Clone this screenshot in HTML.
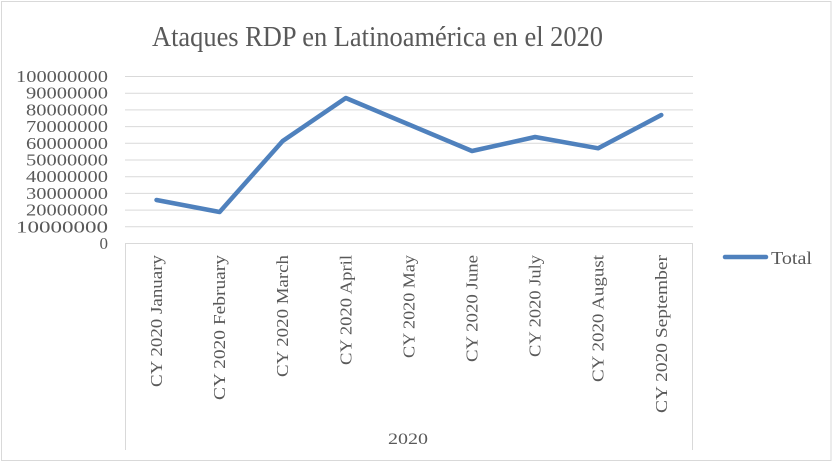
<!DOCTYPE html>
<html><head><meta charset="utf-8"><style>
html,body{margin:0;padding:0;background:#fff;}
svg{display:block;}
text{font-family:"Liberation Serif",serif;fill:#595959;}
</style></head><body>
<svg width="833" height="462" viewBox="0 0 833 462" xmlns="http://www.w3.org/2000/svg">
<rect x="0" y="0" width="833" height="462" fill="#fff"/>
<rect x="1.5" y="1.5" width="829.5" height="459" fill="none" stroke="#d9d9d9" stroke-width="1"/>
<text x="377.5" y="46" font-size="29" text-anchor="middle" textLength="451" lengthAdjust="spacingAndGlyphs">Ataques RDP en Latinoamérica en el 2020</text>
<g stroke="#d9d9d9" stroke-width="1">
<line x1="125" x2="693" y1="76.5" y2="76.5"/>
<line x1="125" x2="693" y1="93.2" y2="93.2"/>
<line x1="125" x2="693" y1="109.9" y2="109.9"/>
<line x1="125" x2="693" y1="126.6" y2="126.6"/>
<line x1="125" x2="693" y1="143.3" y2="143.3"/>
<line x1="125" x2="693" y1="160" y2="160"/>
<line x1="125" x2="693" y1="176.7" y2="176.7"/>
<line x1="125" x2="693" y1="193.4" y2="193.4"/>
<line x1="125" x2="693" y1="210.1" y2="210.1"/>
<line x1="125" x2="693" y1="226.8" y2="226.8"/>
<line x1="125" x2="693" y1="243.5" y2="243.5"/>
<line x1="125.5" x2="125.5" y1="243" y2="450"/>
<line x1="692.5" x2="692.5" y1="243" y2="450"/>
</g>
<g font-size="17" text-anchor="end">
<text x="108" y="82" textLength="92" lengthAdjust="spacingAndGlyphs">100000000</text>
<text x="108" y="98.7" textLength="82" lengthAdjust="spacingAndGlyphs">90000000</text>
<text x="108" y="115.4" textLength="82" lengthAdjust="spacingAndGlyphs">80000000</text>
<text x="108" y="132.1" textLength="82" lengthAdjust="spacingAndGlyphs">70000000</text>
<text x="108" y="148.8" textLength="82" lengthAdjust="spacingAndGlyphs">60000000</text>
<text x="108" y="165.5" textLength="82" lengthAdjust="spacingAndGlyphs">50000000</text>
<text x="108" y="182.2" textLength="82" lengthAdjust="spacingAndGlyphs">40000000</text>
<text x="108" y="198.9" textLength="82" lengthAdjust="spacingAndGlyphs">30000000</text>
<text x="108" y="215.6" textLength="82" lengthAdjust="spacingAndGlyphs">20000000</text>
<text x="108" y="232.3" textLength="92" lengthAdjust="spacingAndGlyphs">10000000</text>
<text x="108" y="249">0</text>
</g>
<polyline fill="none" stroke="#4f81bd" stroke-width="4.5" stroke-linejoin="round" stroke-linecap="round"
points="156.5,200 219.6,212 282.7,141 345.8,98 408.9,124.5 472,151 535.1,137 598.2,148.3 661.3,115"/>
<g font-size="17" text-anchor="end">
<text transform="translate(162,255) rotate(-90)" textLength="132" lengthAdjust="spacingAndGlyphs">CY 2020 January</text>
<text transform="translate(225.1,255) rotate(-90)" textLength="145" lengthAdjust="spacingAndGlyphs">CY 2020 February</text>
<text transform="translate(288.2,255) rotate(-90)" textLength="122" lengthAdjust="spacingAndGlyphs">CY 2020 March</text>
<text transform="translate(351.3,255) rotate(-90)" textLength="110" lengthAdjust="spacingAndGlyphs">CY 2020 April</text>
<text transform="translate(414.4,255) rotate(-90)" textLength="103" lengthAdjust="spacingAndGlyphs">CY 2020 May</text>
<text transform="translate(477.5,255) rotate(-90)" textLength="107" lengthAdjust="spacingAndGlyphs">CY 2020 June</text>
<text transform="translate(540.6,255) rotate(-90)" textLength="102" lengthAdjust="spacingAndGlyphs">CY 2020 July</text>
<text transform="translate(603.7,255) rotate(-90)" textLength="127" lengthAdjust="spacingAndGlyphs">CY 2020 August</text>
<text transform="translate(666.8,255) rotate(-90)" textLength="158" lengthAdjust="spacingAndGlyphs">CY 2020 September</text>
</g>
<text x="408" y="444" font-size="16" text-anchor="middle" textLength="40" lengthAdjust="spacingAndGlyphs">2020</text>
<line x1="725" x2="766" y1="257" y2="257" stroke="#4f81bd" stroke-width="4.5" stroke-linecap="round"/>
<text x="771" y="264" font-size="18" textLength="41" lengthAdjust="spacingAndGlyphs">Total</text>
</svg>
</body></html>
